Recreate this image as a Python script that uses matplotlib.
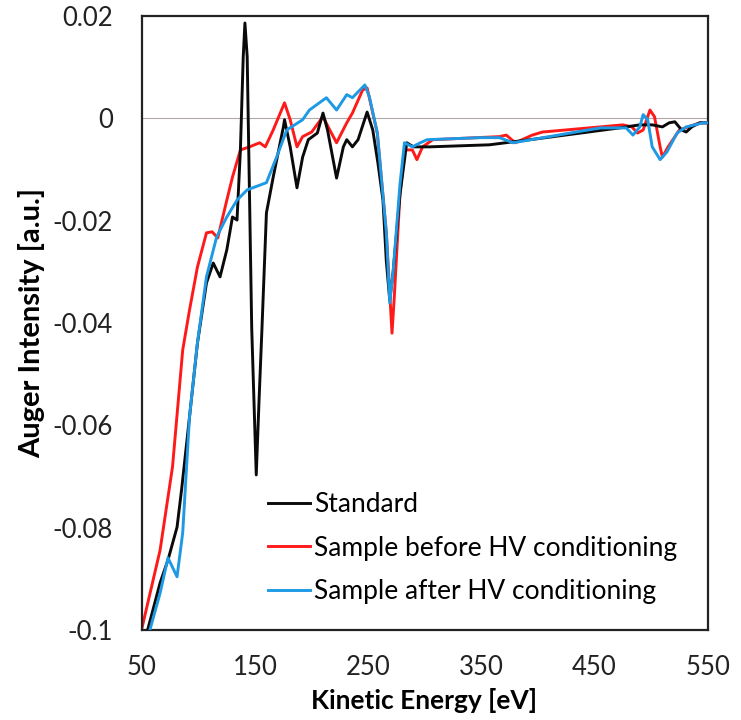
import matplotlib.pyplot as plt
from matplotlib.ticker import FixedLocator, FuncFormatter

plt.rcParams['font.family'] = ['Lato', 'DejaVu Sans']
plt.rcParams['axes.unicode_minus'] = False

# Standard
std_x = [55, 66, 73, 81, 85, 92, 99, 107, 113, 119, 125, 130, 134, 137, 139.5, 141,
         143, 147, 151, 153.5, 156, 160, 166, 175, 176, 181, 187, 192, 197, 205, 210,
         214, 222, 228, 231, 236, 241, 249, 254, 258.5, 263, 266, 269, 272, 278, 284,
         290, 304, 357, 400, 472, 490, 501, 510, 516, 521, 527, 531, 536, 543, 550]
std_y = [-0.1, -0.0908, -0.0863, -0.0799, -0.0726, -0.0584, -0.044, -0.0322, -0.0283,
         -0.031, -0.0257, -0.0193, -0.0199, -0.0062, 0.012, 0.0186, 0.012, -0.041,
         -0.0697, -0.055, -0.0414, -0.0185, -0.0115, -0.0017, -0.0003, -0.0056, -0.0136,
         -0.0076, -0.0042, -0.0029, 0.001, -0.0023, -0.0117, -0.0056, -0.0042, -0.0056,
         -0.0042, 0.0012, -0.0023, -0.0087, -0.016, -0.028, -0.0355, -0.03, -0.015,
         -0.0048, -0.0056, -0.0056, -0.0052, -0.004, -0.0019, -0.0013, -0.0013, -0.0017,
         -0.0009, -0.0007, -0.0023, -0.0027, -0.0017, -0.0009, -0.0009]

# Sample before HV conditioning
bef_x = [50, 66, 77, 86, 92, 99, 107, 112, 117, 125, 130, 137, 145, 154, 159, 166,
         176, 181, 187, 192, 200, 210, 216, 222, 231, 236, 245, 249, 258, 266, 271,
         273, 278, 282, 289, 293, 298, 307, 366, 372, 380, 395, 404, 455, 475, 483,
         488, 493, 499, 503, 508, 510, 515, 525, 543, 550]
bef_y = [-0.0996, -0.0844, -0.0681, -0.0453, -0.0375, -0.0291, -0.0224, -0.0222,
         -0.0234, -0.016, -0.0115, -0.0062, -0.0056, -0.0048, -0.0056, -0.0023, 0.003,
         -0.0003, -0.0056, -0.0036, -0.0027, 0.0003, -0.0023, -0.0048, -0.0009, 0.001,
         0.0055, 0.0059, -0.0029, -0.0224, -0.042, -0.035, -0.015, -0.0062, -0.0062,
         -0.0081, -0.0056, -0.0042, -0.0036, -0.0033, -0.0048, -0.0033, -0.0027,
         -0.0017, -0.0013, -0.0017, -0.0029, -0.0023, 0.0016, 0.0003, -0.0056, -0.0076,
         -0.0056, -0.0023, -0.0009, -0.0009]

# Sample after HV conditioning
aft_x = [57, 66, 73, 81, 86, 92, 99, 107, 116, 125, 134, 143, 160, 169, 178, 192,
         198, 213, 222, 231, 236, 247, 251, 258, 266, 269, 272, 278, 282, 289, 296,
         302, 349, 366, 378, 455, 478, 484, 490, 493, 497, 501, 508, 514, 523, 531,
         546, 550]
aft_y = [-0.1, -0.0928, -0.0859, -0.0896, -0.081, -0.0584, -0.0439, -0.031, -0.0232,
         -0.0193, -0.016, -0.014, -0.0126, -0.0076, -0.0023, -0.0003, 0.0016, 0.004,
         0.0016, 0.0046, 0.004, 0.0065, 0.0042, -0.0029, -0.0224, -0.0361, -0.03,
         -0.013, -0.0048, -0.0056, -0.0048, -0.0042, -0.0038, -0.0038, -0.0048,
         -0.0019, -0.0019, -0.0033, -0.0017, 0.0007, -0.0003, -0.0056, -0.0081, -0.0066,
         -0.0029, -0.0017, -0.0009, -0.0009]

x_ticks = [50, 150, 250, 350, 450, 550]
y_ticks = [0.02, 0, -0.02, -0.04, -0.06, -0.08, -0.1]

fig = plt.figure(figsize=(7.41, 7.2), dpi=100)
ax = fig.add_axes([0.1916, 0.125, 0.7634, 0.853])

ax.plot(std_x, std_y, color='#0a0a0a', lw=2.1, label='Standard', zorder=3)
ax.plot(bef_x, bef_y, color='#ff1a1a', lw=2.1, label='Sample before HV conditioning', zorder=2)
ax.plot(aft_x, aft_y, color='#1e9ae4', lw=2.1, label='Sample after HV conditioning', zorder=4)
ax.axhline(0, color='#b0a8a8', lw=0.8, zorder=1)

ax.set_xlim(50, 550)
ax.set_ylim(-0.1, 0.02)
ax.xaxis.set_major_locator(FixedLocator(x_ticks))
ax.yaxis.set_major_locator(FixedLocator(y_ticks))
ax.yaxis.set_major_formatter(FuncFormatter(lambda v, p: f'{v:g}'))
ax.tick_params(length=0, labelsize=18.5, colors='#222222')
ax.tick_params(axis='y', pad=21)
ax.tick_params(axis='x', pad=18)

for s in ax.spines.values():
    s.set_color('#222222')
    s.set_linewidth(1.6)

ax.set_xlabel('Kinetic Energy [eV]', fontsize=19, fontweight='bold')
ax.set_ylabel('Auger Intensity [a.u.]', fontsize=21, fontweight='bold')
ax.xaxis.set_label_coords(0.498, -0.094)
ax.yaxis.set_label_coords(-0.171, 0.5)
ax.xaxis.label.set_va('top')

ax.legend(loc='lower left', bbox_to_anchor=(0.223, 0.042), frameon=False, fontsize=19,
          handlelength=1.6, handletextpad=0.15, labelspacing=0.7, borderpad=0,
          borderaxespad=0)

fig.savefig('out.png', dpi=100)
